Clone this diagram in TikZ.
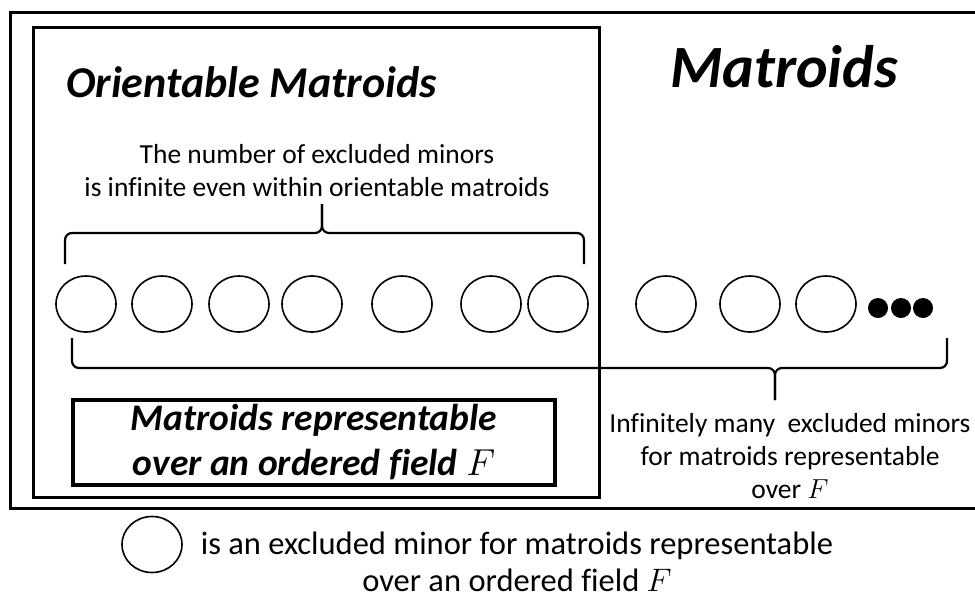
\RequirePackage{fix-cm}
\documentclass[tikz,border=0pt]{standalone}
\usepackage{fontspec}
\setmainfont{Carlito}[Ligatures=NoCommon]
\usetikzlibrary{shapes.geometric}

\begin{document}
\begin{tikzpicture}[x=1pt,y=-1pt,
  minor/.style={draw, ellipse, line width=1.6pt, minimum width=60pt, minimum height=56pt, inner sep=0pt},
  bigdot/.style={fill, circle, minimum size=20pt, inner sep=0pt},
  frame/.style={line width=3pt},
  brace/.style={line width=2.2pt, rounded corners=7pt},
  note/.style={align=center, inner sep=0pt, font=\fontsize{27.5}{33}\selectfont},
  title/.style={inner sep=0pt, font=\bfseries\itshape}]
\useasboundingbox (0,0) rectangle (975,598);

% class frames: all matroids (open to the right) and orientable matroids
\draw[frame] (985,12) -- (10,12) -- (10,508) -- (985,508);
\draw[frame] (33,27) rectangle (599,497);

% headings
\node[title, anchor=base west, font=\fontsize{44}{52}\bfseries\itshape\selectfont] (orient) at (66,97) {Orientable Matroids};
\node[title, anchor=base west, font=\fontsize{60}{72}\bfseries\itshape\selectfont] (mat) at (670,87) {Matroids};

% excluded minors
\foreach \i/\x in {1/86,2/162,3/239,4/312,5/402,6/491,7/558,8/666,9/750,10/826}
  \node[minor] (c\i) at (\x,304) {};
\node[bigdot] (d1) at (878,308) {};
\node[bigdot] (d2) at (901,308) {};
\node[bigdot] (d3) at (923,308) {};

% upper brace over the orientable excluded minors
\coordinate (ta) at (65,264);
\coordinate (tb) at (584,264);
\coordinate (tt) at (322,204);
\draw[brace] (ta) -- (ta |- 0,233) -- (tt |- 0,233) -- (tt);
\draw[brace] (tb) -- (tb |- 0,233) -- (tt |- 0,233) -- (tt);
\node[note] (topnote) at (317,171)
  {The number of excluded minors\\is infinite even within orientable matroids};

% lower brace under all excluded minors
\coordinate (ba) at (72,338);
\coordinate (bb) at (947,338);
\coordinate (bt) at (775,400);
\draw[brace] (ba) -- (ba |- 0,368) -- (bt |- 0,368) -- (bt);
\draw[brace] (bb) -- (bb |- 0,368) -- (bt |- 0,368) -- (bt);
\node[note] (rightnote) at (790,456)
  {Infinitely many~ excluded minors\\for matroids representable\\over $F$};

% representable class
\node[draw, line width=3.5pt, minimum width=482pt, minimum height=85pt, align=center,
      font=\fontsize{37.5}{45}\bfseries\itshape\selectfont] (repr) at (314,442.5)
  {Matroids representable\\over an ordered field $F$};

% legend
\node[minor] (key) at (152,544.5) {};
\node[note, font=\fontsize{32.5}{37}\selectfont] (keytext) at (517,562)
  {is an excluded minor for matroids representable\\over an ordered field $F$};
\end{tikzpicture}
\end{document}
